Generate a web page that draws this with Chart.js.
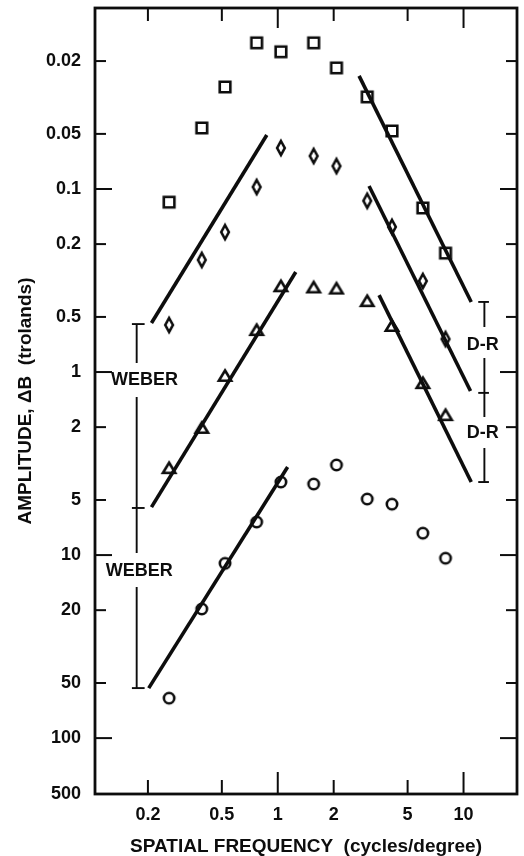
<!DOCTYPE html>
<html><head><meta charset="utf-8">
<script src="https://cdn.jsdelivr.net/npm/chart.js@4/dist/chart.umd.min.js"></script>
<style>html,body{margin:0;padding:0;background:#fff}#wrap{width:524px;height:856px;position:relative}</style>
</head><body><div id="wrap"><canvas id="c"></canvas></div>
<script>
// ---- data ----
const freqs     = [0.26, 0.39, 0.52, 0.77, 1.04, 1.56, 2.07, 3.03, 4.12, 6.04, 8.0];
const squares   = [0.118, 0.0464, 0.0277, 0.0159, 0.0178, 0.0159, 0.0218, 0.0314, 0.0482, 0.127, 0.224];
const diamonds  = [0.553, 0.244, 0.172, 0.0975, 0.0597, 0.066, 0.0749, 0.116, 0.161, 0.318, 0.66];
const triangles = [3.35, 2.02, 1.05, 0.59, 0.34, 0.345, 0.35, 0.41, 0.56, 1.15, 1.72];
const circles   = [60.5, 19.7, 11.1, 6.6, 3.99, 4.09, 3.22, 4.94, 5.27, 7.59, 10.4];

// fitted straight lines [freq, amplitude] end points
const fitSquareDesc   = [[2.74, 0.0241], [11.0, 0.414]];
const fitDiamondAsc   = [[0.209, 0.540], [0.873, 0.0507]];
const fitDiamondDesc  = [[3.10, 0.0963], [10.9, 1.27]];
const fitTriangleAsc  = [[0.209, 5.47], [1.25, 0.284]];
const fitTriangleDesc = [[3.51, 0.380], [11.0, 3.99]];
const fitCircleAsc    = [[0.202, 53.3], [1.13, 3.30]];

// bracket annotations (freq position, amplitude levels)
const weberFreq = 0.174, weberCap = [0.164, 0.192];
const weberLevels = [0.547, 5.53, 53.3];
const weberGaps = [[0.893, 1.37], [9.75, 14.96]];
const drFreq = 12.95, drCap = [12.0, 13.7];
const drLevels = [0.414, 1.30, 3.99];
const drGaps = [[0.568, 0.839], [1.76, 2.60]];
const textLabels = [['WEBER', 0.192, 1.106], ['WEBER', 0.1795, 12.2], ['D-R', 12.7, 0.712], ['D-R', 12.7, 2.15]];

// axes
const xMin = 0.1038, xMax = 19.4;
const yMin = 0.01026, yMax = 202;
const xTickValues = [0.2, 0.5, 1, 2, 5, 10];
const xTickLabels = ['0.2', '0.5', '1', '2', '5', '10'];
const yTickValues = [0.02, 0.05, 0.1, 0.2, 0.5, 1, 2, 5, 10, 20, 50, 100, 202];
const yTickLabels = ['0.02', '0.05', '0.1', '0.2', '0.5', '1', '2', '5', '10', '20', '50', '100', '500'];

const FONT = '"Liberation Sans", Arial, sans-serif';
const INK = '#0d0d0d';

function marker(kind) {
  const c = document.createElement('canvas');
  c.width = 18; c.height = 20;
  const g = c.getContext('2d');
  g.strokeStyle = INK; g.fillStyle = '#fff'; g.lineWidth = 2.6;
  const cx = 9, cy = 10;
  g.beginPath();
  if (kind === 'square') g.rect(cx - 5.3, cy - 5.3, 10.6, 10.6);
  else if (kind === 'diamond') { g.moveTo(cx, cy - 7); g.lineTo(cx + 3.8, cy); g.lineTo(cx, cy + 7); g.lineTo(cx - 3.8, cy); g.closePath(); }
  else if (kind === 'triangle') { g.moveTo(cx, cy - 5.5); g.lineTo(cx + 6.2, cy + 4.8); g.lineTo(cx - 6.2, cy + 4.8); g.closePath(); }
  else g.arc(cx, cy, 5.2, 0, Math.PI * 2);
  g.fill(); g.stroke();
  return c;
}

function pts(values) { return freqs.map((f, i) => ({x: f, y: values[i]})); }
function seg(a, b, w) {
  return {type: 'line', data: [{x: a[0], y: a[1]}, {x: b[0], y: b[1]}], borderColor: INK, borderWidth: w,
    pointRadius: 0, showLine: true, fill: false, clip: false};
}
function scatter(values, kind) {
  return {type: 'scatter', data: pts(values), pointStyle: marker(kind), pointRadius: 6, showLine: false};
}

const datasets = [
  seg(...fitSquareDesc, 3.6), seg(...fitDiamondAsc, 3.6), seg(...fitDiamondDesc, 3.6),
  seg(...fitTriangleAsc, 3.6), seg(...fitTriangleDesc, 3.6), seg(...fitCircleAsc, 3.6),
];
// bracket verticals (split by the text gaps)
function bracket(xf, cap, levels, gaps) {
  const top = levels[0], bot = levels[levels.length - 1];
  const bounds = [top, ...gaps.flat(), bot];
  for (let i = 0; i < bounds.length; i += 2) datasets.push(seg([xf, bounds[i]], [xf, bounds[i + 1]], 1.9));
  levels.forEach(l => datasets.push(seg([cap[0], l], [cap[1], l], 1.9)));
}
bracket(weberFreq, weberCap, weberLevels, weberGaps);
bracket(drFreq, drCap, drLevels, drGaps);
datasets.push(scatter(squares, 'square'), scatter(diamonds, 'diamond'), scatter(triangles, 'triangle'), scatter(circles, 'circle'));

const isDecade = v => Math.abs(Math.log10(v) - Math.round(Math.log10(v))) < 1e-6;

const framePlugin = {
  id: 'frameTicks',
  beforeDatasetsDraw(chart) {
    const {ctx, chartArea: a, scales: {x, y}} = chart;
    ctx.save();
    ctx.strokeStyle = INK; ctx.lineCap = 'butt';
    const line = (x1, y1, x2, y2) => { ctx.beginPath(); ctx.moveTo(x1, y1); ctx.lineTo(x2, y2); ctx.stroke(); };
    ctx.lineWidth = 2;
    xTickValues.forEach(v => {
      const px = x.getPixelForValue(v), d = isDecade(v);
      line(px, a.bottom, px, a.bottom - (d ? 22 : 14));
      line(px, a.top, px, a.top + (d ? 20 : 13));
    });
    yTickValues.forEach(v => {
      const py = y.getPixelForValue(v);
      if (Math.abs(py - a.bottom) < 2) return;
      const d = isDecade(v);
      line(a.left, py, a.left + (d ? 17 : 11), py);
      line(a.right, py, a.right - (d ? 17 : 11), py);
    });
    ctx.lineWidth = 2.8;
    ctx.strokeRect(a.left, a.top, a.right - a.left, a.bottom - a.top);
    ctx.restore();
  },
  afterDatasetsDraw(chart) {
    const {ctx, scales: {x, y}} = chart;
    ctx.save();
    ctx.fillStyle = INK; ctx.font = 'bold 18px ' + FONT;
    ctx.textAlign = 'center'; ctx.textBaseline = 'middle';
    textLabels.forEach(([t, f, v]) => ctx.fillText(t, x.getPixelForValue(f), y.getPixelForValue(v)));
    ctx.restore();
  }
};

new Chart(document.getElementById('c'), {
  data: {datasets},
  options: {
    responsive: true, maintainAspectRatio: false, animation: false,
    layout: {padding: {top: 8, right: 3, left: 0, bottom: 0}},
    plugins: {legend: {display: false}, tooltip: {enabled: false}},
    scales: {
      x: {
        type: 'logarithmic', position: 'bottom', min: xMin, max: xMax,
        grid: {display: false, drawTicks: false}, border: {display: false},
        afterBuildTicks: s => { s.ticks = xTickValues.map(v => ({value: v})); },
        afterFit: s => { s.height = 62; s.paddingLeft = 0; s.paddingRight = 0; },
        ticks: {autoSkip: false, maxRotation: 0, padding: 10, color: INK,
          font: {family: FONT, size: 18, weight: 'bold'},
          callback: (v, i) => xTickLabels[i]},
        title: {display: true, text: 'SPATIAL FREQUENCY  (cycles/degree)', color: INK,
          font: {family: FONT, size: 19, weight: 'bold', lineHeight: 1.0}, padding: {top: 0, bottom: 0}}
      },
      y: {
        type: 'logarithmic', position: 'left', reverse: true, min: yMin, max: yMax,
        grid: {display: false, drawTicks: false}, border: {display: false},
        afterBuildTicks: s => { s.ticks = yTickValues.map(v => ({value: v})); },
        afterFit: s => { s.width = 95; s.paddingTop = 0; s.paddingBottom = 0; },
        ticks: {autoSkip: false, padding: 14, color: INK,
          font: {family: FONT, size: 18, weight: 'bold'},
          callback: (v, i) => yTickLabels[i]},
        title: {display: true, text: 'AMPLITUDE, ΔB  (trolands)', color: INK,
          font: {family: FONT, size: 19, weight: 'bold', lineHeight: 1.0}, padding: {top: 16, bottom: 0}}
      }
    }
  },
  plugins: [framePlugin]
});
</script></body></html>
